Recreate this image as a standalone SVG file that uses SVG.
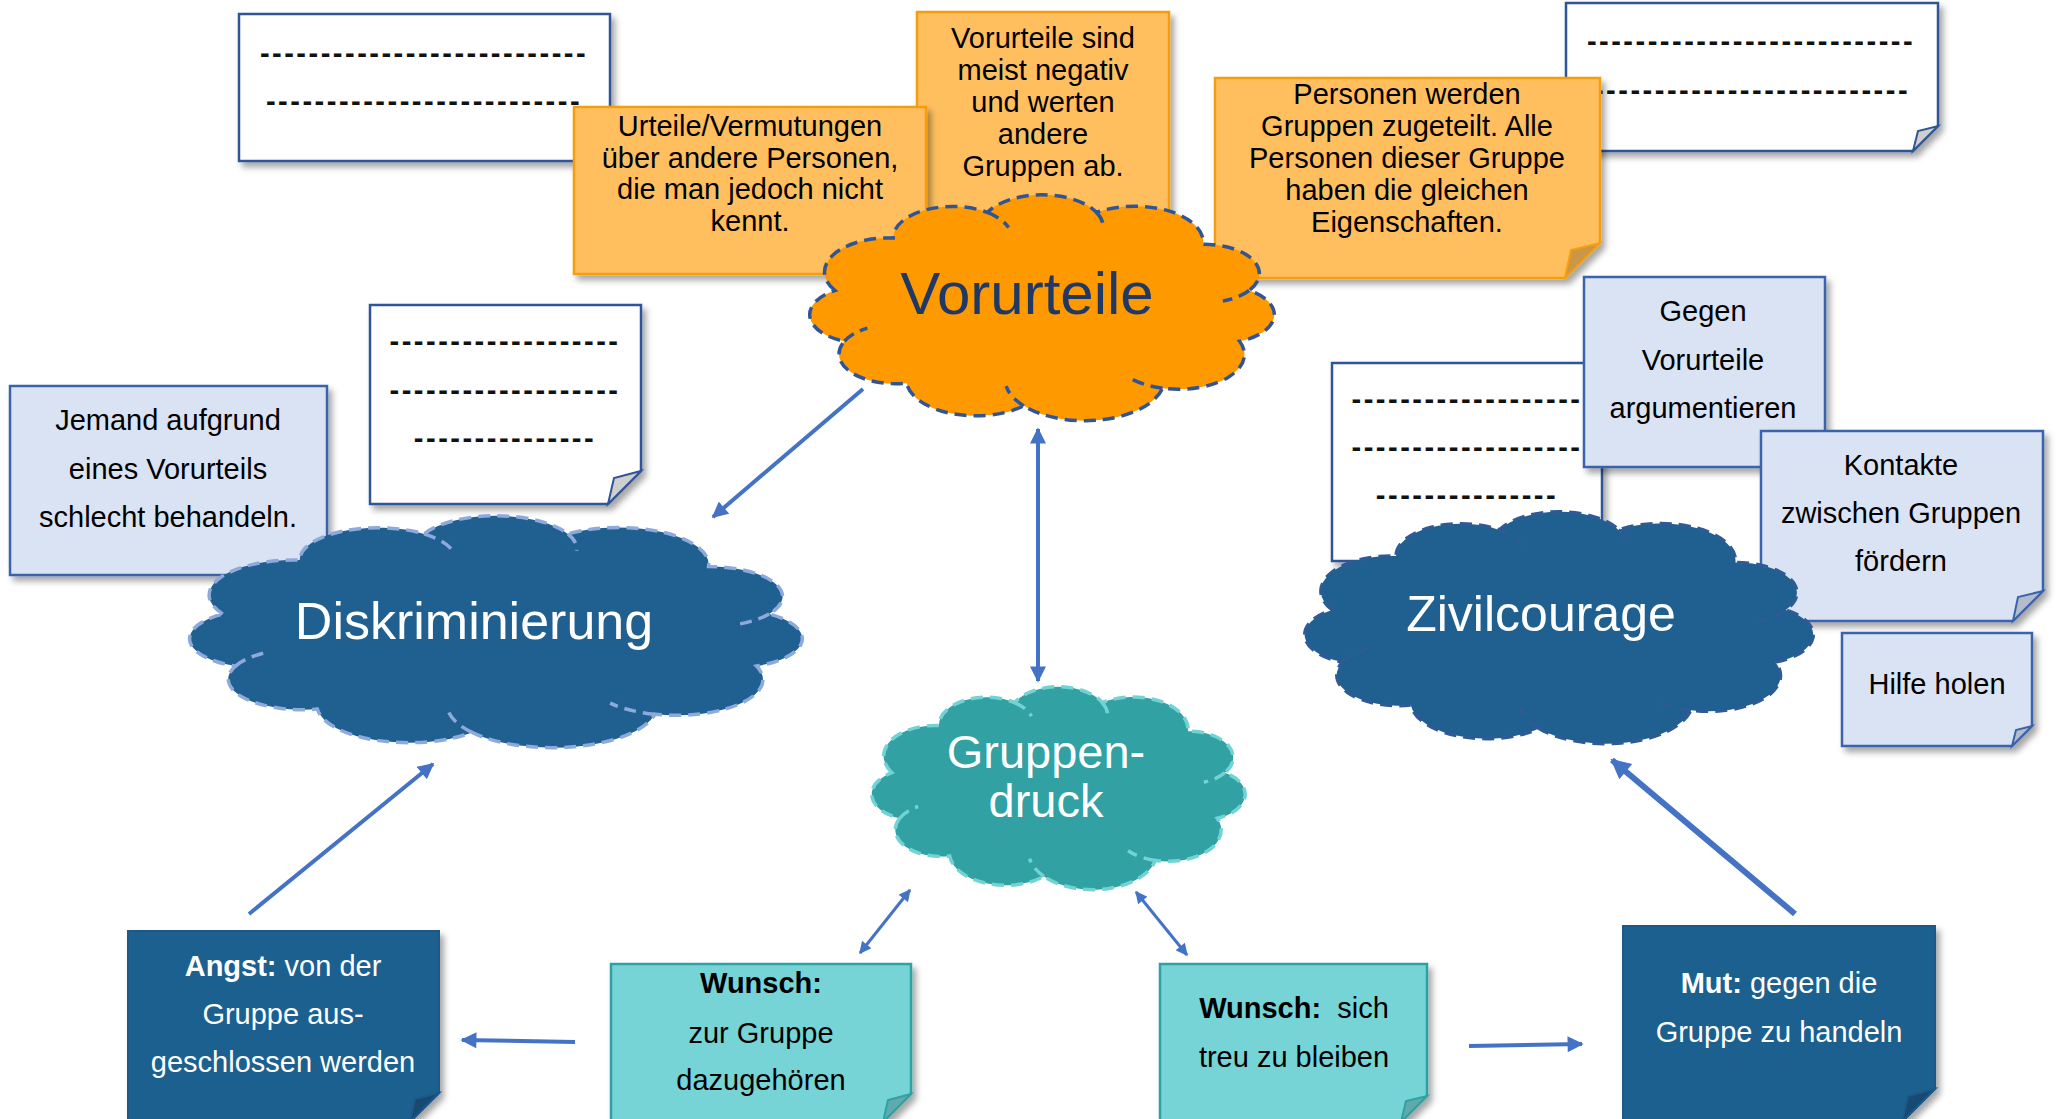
<svg xmlns="http://www.w3.org/2000/svg" xmlns:xlink="http://www.w3.org/1999/xlink" width="2056" height="1119" viewBox="0 0 2056 1119">
<style>
.t{font-family:"Liberation Sans",Arial,sans-serif;font-size:29px;text-anchor:middle;fill:#000}
.tw{fill:#fff}
.b{font-weight:bold}
.dash{font-family:"Liberation Sans",Arial,sans-serif;font-size:29px;font-weight:bold;letter-spacing:2.5px;text-anchor:middle;fill:#111}
.ct{font-family:"Liberation Sans",Arial,sans-serif;text-anchor:middle}
.white{fill:#fff;stroke:#2F5597;stroke-width:2.5}
.orange{fill:#FFBF5F;stroke:#F59E10;stroke-width:2.5}
.lblue{fill:#DAE3F3;stroke:#3B63AC;stroke-width:2.5}
.teal{fill:#76D4D6;stroke:#2EA2A3;stroke-width:2.5}
.dblue{fill:#1F6090;stroke:#1E5888;stroke-width:2}
.f-white{fill:#CFCFCF;stroke:#2F5597;stroke-width:2}
.f-orange{fill:#CC9645;stroke:#F59E10;stroke-width:2}
.f-lblue{fill:#B4BCCB;stroke:#3B63AC;stroke-width:2}
.f-teal{fill:#5FAAAC;stroke:#2EA2A3;stroke-width:2}
.f-dblue{fill:#174A70;stroke:#1E5888;stroke-width:2}
.sh{filter:url(#shadow)}
.cloud{stroke-width:3.5;stroke-dasharray:12 7}
.conn line{stroke:#4472C4;stroke-width:4;fill:none}
</style>
<defs>
<filter id="shadow" x="-10%" y="-10%" width="130%" height="130%">
<feDropShadow dx="4" dy="5" stdDeviation="3" flood-color="#000" flood-opacity="0.35"/>
</filter>
<g id="cloudShape">
<path vector-effect="non-scaling-stroke" d="M6.7,43.2 A13.5,13.5 0 0 1 18.9,22.4 A12.4,12.4 0 0 1 38.6,12.3 A12.8,12.8 0 0 1 61.4,12.3 A14.3,14.3 0 0 1 83.7,24.9 A11.6,11.6 0 0 1 93.3,43.2 A11.3,11.3 0 0 1 91.3,63.3 A13.8,13.8 0 0 1 75.2,81.9 A16.7,16.7 0 0 1 46.2,88.9 A14.6,14.6 0 0 1 21.7,79.9 A11.8,11.8 0 0 1 8.7,63.3 A11.3,11.3 0 0 1 6.7,43.2 Z"/>
<path vector-effect="non-scaling-stroke" fill="none" d="M38.6,12.3 A12.4,12.4 0 0 1 43.0,18.3 M61.4,12.3 A12.8,12.8 0 0 1 62.8,18.8 M93.3,43.2 A11.6,11.6 0 0 1 87.8,47.4 M75.2,81.9 A13.8,13.8 0 0 1 68.1,77.6 M46.2,88.9 A16.7,16.7 0 0 1 42.5,81.1 M8.7,63.3 A11.8,11.8 0 0 1 13.5,58.1"/>
</g>
<marker id="ah" viewBox="0 0 10 10" refX="9" refY="5" markerUnits="userSpaceOnUse" markerWidth="17" markerHeight="16" orient="auto-start-reverse">
<path d="M0,0 L10,5 L0,10 z" fill="#4472C4"/>
</marker>
<marker id="ahs" viewBox="0 0 10 10" refX="9" refY="5" markerUnits="userSpaceOnUse" markerWidth="13" markerHeight="12" orient="auto-start-reverse">
<path d="M0,0 L10,5 L0,10 z" fill="#4472C4"/>
</marker>
<marker id="ahl" viewBox="0 0 10 10" refX="9" refY="5" markerUnits="userSpaceOnUse" markerWidth="22" markerHeight="20" orient="auto-start-reverse">
<path d="M0,0 L10,5 L0,10 z" fill="#4472C4"/>
</marker>
</defs>
<rect x="0" y="0" width="2056" height="1119" fill="#fff"/>

<g id="box-top-left">
<rect class="white sh" x="239" y="14" width="371" height="147"/>
<text class="dash" x="424" y="63">---------------------------</text>
<text class="dash" x="424" y="111">--------------------------</text>
</g>

<g id="box-vorurteile-sind">
<rect class="orange sh" x="917" y="12" width="252" height="213"/>
<text class="t" x="1043" y="48">Vorurteile sind</text>
<text class="t" x="1043" y="80">meist negativ</text>
<text class="t" x="1043" y="112">und werten</text>
<text class="t" x="1043" y="144">andere</text>
<text class="t" x="1043" y="176">Gruppen ab.</text>
</g>

<g id="box-urteile">
<rect class="orange sh" x="574" y="107" width="352" height="167"/>
<text class="t" x="750" y="136">Urteile/Vermutungen</text>
<text class="t" x="750" y="168">über andere Personen,</text>
<text class="t" x="750" y="199">die man jedoch nicht</text>
<text class="t" x="750" y="231">kennt.</text>
</g>

<g id="box-top-right">
<path class="white sh" d="M1566,3 H1938 V126 L1913,151 H1566 Z"/>
<path class="f-white" d="M1913,151 L1918,131 L1938,126 Z"/>
<text class="dash" x="1751" y="51">---------------------------</text>
<text class="dash" x="1752" y="100">--------------------------</text>
</g>

<g id="box-personen">
<path class="orange sh" d="M1215,78 H1600 V243 L1565,278 H1215 Z"/>
<path class="f-orange" d="M1565,278 L1571,250 L1600,243 Z"/>
<text class="t" x="1407" y="104">Personen werden</text>
<text class="t" x="1407" y="136">Gruppen zugeteilt. Alle</text>
<text class="t" x="1407" y="168">Personen dieser Gruppe</text>
<text class="t" x="1407" y="200">haben die gleichen</text>
<text class="t" x="1407" y="232">Eigenschaften.</text>
</g>

<g id="cloud-vorurteile">
<use xlink:href="#cloudShape" href="#cloudShape" class="cloud" transform="translate(802.8 181.4) scale(4.784 2.525)" fill="#FF9900" stroke="#2F5597"/>
<text class="ct" x="1027" y="314" font-size="60" fill="#203864">Vorurteile</text>
</g>

<g id="box-jemand">
<rect class="lblue sh" x="10" y="386" width="317" height="189"/>
<text class="t" x="168" y="430">Jemand aufgrund</text>
<text class="t" x="168" y="479">eines Vorurteils</text>
<text class="t" x="168" y="527">schlecht behandeln.</text>
</g>

<g id="box-mid-left">
<path class="white sh" d="M370,305 H641 V471 L608,504 H370 Z"/>
<path class="f-white" d="M608,504 L614,478 L641,471 Z"/>
<text class="dash" x="505" y="351">-------------------</text>
<text class="dash" x="505" y="400">-------------------</text>
<text class="dash" x="505" y="448">---------------</text>
</g>

<g id="box-mid-right">
<rect class="white sh" x="1332" y="363" width="270" height="198"/>
<text class="dash" x="1467" y="409">-------------------</text>
<text class="dash" x="1467" y="457">-------------------</text>
<text class="dash" x="1467" y="505">---------------</text>
</g>

<g id="box-gegen">
<path class="lblue sh" d="M1584,277 H1825 V436 L1794,467 H1584 Z"/>
<path class="f-lblue" d="M1794,467 L1799,442 L1825,436 Z"/>
<text class="t" x="1703" y="321">Gegen</text>
<text class="t" x="1703" y="370">Vorurteile</text>
<text class="t" x="1703" y="418">argumentieren</text>
</g>

<g id="box-kontakte">
<path class="lblue sh" d="M1761,431 H2043 V591 L2013,621 H1761 Z"/>
<path class="f-lblue" d="M2013,621 L2018,597 L2043,591 Z"/>
<text class="t" x="1901" y="475">Kontakte</text>
<text class="t" x="1901" y="523">zwischen Gruppen</text>
<text class="t" x="1901" y="571">fördern</text>
</g>

<g id="cloud-diskriminierung">
<use xlink:href="#cloudShape" href="#cloudShape" class="cloud" transform="translate(180.5 502) scale(6.309 2.592)" fill="#1F6090" stroke="#8EA9DB"/>
<text class="ct" x="474" y="639" font-size="52" fill="#fff">Diskriminierung</text>
</g>

<g id="cloud-zivilcourage">
<use xlink:href="#cloudShape" href="#cloudShape" class="cloud" transform="translate(1297.1 498) scale(5.237 2.592)" fill="#1F6090" stroke="#2E5A95"/>
<text class="ct" x="1541" y="631" font-size="50" fill="#fff">Zivilcourage</text>
</g>

<g id="box-hilfe">
<path class="lblue sh" d="M1842,633 H2032 V726 L2012,746 H1842 Z"/>
<path class="f-lblue" d="M2012,746 L2016,730 L2032,726 Z"/>
<text class="t" x="1937" y="694">Hilfe holen</text>
</g>

<g id="cloud-gruppendruck">
<use xlink:href="#cloudShape" href="#cloudShape" class="cloud" transform="translate(866.2 674.7) scale(3.845 2.268)" fill="#31A1A3" stroke="#72D3D4"/>
<text class="ct" x="1046" y="768" font-size="47" fill="#fff">Gruppen-</text>
<text class="ct" x="1046" y="817" font-size="47" fill="#fff">druck</text>
</g>

<g id="box-angst">
<path class="dblue sh" d="M128,931 H439 V1093 L410,1122 H128 Z"/>
<path class="f-dblue" d="M410,1122 L415,1099 L439,1093 Z"/>
<text class="t tw" x="283" y="976"><tspan class="b">Angst:</tspan> von der</text>
<text class="t tw" x="283" y="1024">Gruppe aus-</text>
<text class="t tw" x="283" y="1072">geschlossen werden</text>
</g>

<g id="box-wunsch-zugehoeren">
<path class="teal sh" d="M611,964 H911 V1094 L883,1122 H611 Z"/>
<path class="f-teal" d="M883,1122 L888,1100 L911,1094 Z"/>
<text class="t b" x="761" y="993">Wunsch:</text>
<text class="t" x="761" y="1043">zur Gruppe</text>
<text class="t" x="761" y="1090">dazugehören</text>
</g>

<g id="box-wunsch-treu">
<path class="teal sh" d="M1160,964 H1427 V1096 L1401,1122 H1160 Z"/>
<path class="f-teal" d="M1401,1122 L1406,1101 L1427,1096 Z"/>
<text class="t" x="1294" y="1018" xml:space="preserve"><tspan class="b">Wunsch:</tspan>  sich</text>
<text class="t" x="1294" y="1067">treu zu bleiben</text>
</g>

<g id="box-mut">
<path class="dblue sh" d="M1623,926 H1935 V1089 L1902,1122 H1623 Z"/>
<path class="f-dblue" d="M1902,1122 L1908,1096 L1935,1089 Z"/>
<text class="t tw" x="1779" y="993"><tspan class="b">Mut:</tspan> gegen die</text>
<text class="t tw" x="1779" y="1042">Gruppe zu handeln</text>
</g>

<g id="connectors" class="conn">
<line x1="863" y1="389" x2="713" y2="517" marker-end="url(#ah)"/>
<line x1="1038" y1="429" x2="1038" y2="681" marker-start="url(#ah)" marker-end="url(#ah)"/>
<line x1="249" y1="914" x2="433" y2="764" marker-end="url(#ah)"/>
<line x1="575" y1="1042" x2="462" y2="1040" marker-end="url(#ah)"/>
<line x1="910" y1="890" x2="860" y2="953" style="stroke-width:3" marker-start="url(#ahs)" marker-end="url(#ahs)"/>
<line x1="1136" y1="892" x2="1187" y2="955" style="stroke-width:3" marker-start="url(#ahs)" marker-end="url(#ahs)"/>
<line x1="1469" y1="1046" x2="1582" y2="1044" marker-end="url(#ah)"/>
<line x1="1795" y1="914" x2="1612" y2="760" style="stroke-width:6" marker-end="url(#ahl)"/>
</g>
</svg>
